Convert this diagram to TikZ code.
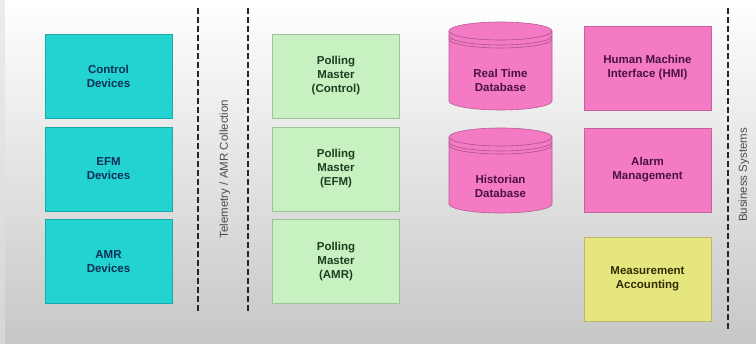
\documentclass[tikz,border=0pt]{standalone}
\usepackage{fontspec}
\setmainfont{Liberation Sans}
\begin{document}
\begin{tikzpicture}[x=1pt,y=-1pt,
  box/.style={rectangle,draw=#1!80!black,line width=0.6pt,minimum width=127pt,minimum height=84pt,align=center,
    font=\fontsize{11.5}{14}\selectfont\bfseries},
  cyanbox/.style={box=cyanc,fill=cyanc,text=cyant},
  greenbox/.style={box=greenc,fill=greenc,text=greent},
  pinkbox/.style={box=pinkc,fill=pinkc,text=pinkt},
  yellowbox/.style={box=yellowc,fill=yellowc,text=yellowt},
  sep/.style={draw=black!85,line width=2pt,dash pattern=on 6pt off 3pt},
  vlabel/.style={rotate=90,text=black!70,font=\fontsize{11.5}{13}\selectfont},
  cyl/.style={fill=pinkc,draw=pinkc!75!black,line width=0.6pt},
  cylline/.style={draw=pinkc!70!black,line width=0.6pt},
  cyltext/.style={align=center,text=pinkt,font=\fontsize{11.5}{14}\selectfont\bfseries}]
\definecolor{cyanc}{HTML}{22D3D1}
\definecolor{cyant}{HTML}{0B2F55}
\definecolor{greenc}{HTML}{C8F1C2}
\definecolor{greent}{HTML}{1F3D1F}
\definecolor{pinkc}{HTML}{F47AC4}
\definecolor{pinkt}{HTML}{4A1242}
\definecolor{yellowc}{HTML}{E6E67E}
\definecolor{yellowt}{HTML}{2E2E05}
% background
\shade[top color=white,bottom color=black!22] (0,0) rectangle (756,344);
\fill[black!12,opacity=0.6] (0,0) rectangle (5,344);
\useasboundingbox (0,0) rectangle (756,344);
% left column
\node[cyanbox] (ctrl) at (108.5,76) {Control\\Devices};
\node[cyanbox] (efm) at (108.5,169) {EFM\\Devices};
\node[cyanbox] (amr) at (108.5,261.5) {AMR\\Devices};
% separators
\coordinate (s1t) at (198,8); \coordinate (s1b) at (198,312);
\coordinate (s2t) at (248,8); \coordinate (s2b) at (248,312);
\coordinate (s3t) at (728,8); \coordinate (s3b) at (728,330);
\draw[sep] (s1t) -- (s1b);
\draw[sep] (s2t) -- (s2b);
\draw[sep] (s3t) -- (s3b);
\node[vlabel] (tel) at (225,169) {Telemetry / AMR Collection};
\node[vlabel] (bus) at (744,175) {Business Systems};
% polling masters
\node[greenbox] (pmc) at (336,76) {Polling\\Master\\(Control)};
\node[greenbox] (pme) at (336,169) {Polling\\Master\\(EFM)};
\node[greenbox] (pma) at (336,261.5) {Polling\\Master\\(AMR)};
% databases
\draw[cyl] (449,31) -- (449,101) arc[start angle=180,end angle=360,x radius=51.5pt,y radius=9pt] -- (552,31)
  arc[start angle=0,end angle=180,x radius=51.5pt,y radius=9pt] -- cycle;
\draw[cylline] (449,31) arc[start angle=180,end angle=360,x radius=51.5pt,y radius=9pt];
\draw[cylline] (449,36) arc[start angle=180,end angle=360,x radius=51.5pt,y radius=9pt];
\draw[cylline] (449,39) arc[start angle=180,end angle=360,x radius=51.5pt,y radius=9pt];
\node[cyltext] (rtdb) at (500.5,80) {Real Time\\Database};
\draw[cyl] (449,137) -- (449,204) arc[start angle=180,end angle=360,x radius=51.5pt,y radius=9pt] -- (552,137)
  arc[start angle=0,end angle=180,x radius=51.5pt,y radius=9pt] -- cycle;
\draw[cylline] (449,137) arc[start angle=180,end angle=360,x radius=51.5pt,y radius=9pt];
\draw[cylline] (449,142) arc[start angle=180,end angle=360,x radius=51.5pt,y radius=9pt];
\draw[cylline] (449,145) arc[start angle=180,end angle=360,x radius=51.5pt,y radius=9pt];
\node[cyltext] (hdb) at (500.5,186) {Historian\\Database};
% right column
\node[pinkbox] (hmi) at (647.5,68) {Human Machine\\Interface (HMI)};
\node[pinkbox] (alarm) at (647.5,170) {Alarm\\Management};
\node[yellowbox] (meas) at (647.5,279) {Measurement\\Accounting};
\end{tikzpicture}
\end{document}
